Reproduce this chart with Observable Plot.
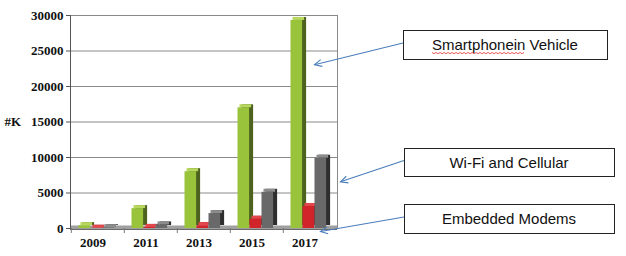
<!DOCTYPE html>
<html><head><meta charset="utf-8">
<script src="https://cdn.jsdelivr.net/npm/d3@7"></script>
<script src="https://cdn.jsdelivr.net/npm/@observablehq/plot@0.6"></script>
<style>body{margin:0;background:#fff} #chart{width:626px;height:256px}</style>
</head><body><div id="chart"></div>
<script>
const years = ["2009", "2011", "2013", "2015", "2017"];
const smartphone = [400, 2800, 8000, 17000, 29300];
const embedded = [30, 150, 400, 1300, 3100];
const wifi = [100, 500, 2100, 5100, 9900];
const yTicks = [0, 5000, 10000, 15000, 20000, 25000, 30000];
const yTickLabels = ["0", "5000", "10000", "15000", "20000", "25000", "30000"];
const yLabel = "#K";
const annotationLabels = ["Smartphonein Vehicle", "Wi-Fi and Cellular", "Embedded Modems"];
const annotationSeries = [0, 2, 1];
const annotationTargetValues = [23000, 6500, -500];

const frontColors = ["#9ac33c", "#d0232a", "#696969"];
const sideColors = ["#4e6220", "#7d1317", "#2e2e2e"];
const topColors = ["#b7d75e", "#e3474b", "#8c8c8c"];

const W = 626, H = 256, mL = 70, mR = 289, mT = 15, mB = 28;
const bw = (W - mL - mR) / years.length;
const barW = 12, pad0 = 7.5, depthX = 4, depthY = 3;
const serif = "'Liberation Serif', 'Times New Roman', serif";

const seriesArrays = [smartphone, embedded, wifi];
const rows = [];
seriesArrays.forEach((arr, s) => arr.forEach((v, i) => rows.push({year: years[i], s, value: v})));
const yTickRows = yTicks.map((v, i) => ({v, label: yTickLabels[i]}));

const marks = [
  Plot.ruleY(yTicks, {stroke: "#8a8a8a", strokeWidth: 1}),
  Plot.frame({anchor: "right", stroke: "#8a8a8a"}),
  Plot.ruleY([0], {stroke: "#a0a0a0", strokeWidth: 4, dy: -1}),
  Plot.ruleY([0], {stroke: "#6a6a6a", strokeWidth: 1, dy: 1})
];
for (let s = 0; s < 3; s++) {
  const d = rows.filter(r => r.s === s);
  const il = pad0 + s * barW, ir = bw - il - barW;
  marks.push(Plot.barY(d, {x: "year", y: "value", fill: sideColors[s], insetLeft: il, insetRight: ir, dx: depthX, dy: -depthY}));
}
for (let s = 0; s < 3; s++) {
  const d = rows.filter(r => r.s === s);
  const il = pad0 + s * barW, ir = bw - il - barW;
  marks.push(Plot.barY(d, {x: "year", y: "value", fill: frontColors[s], insetLeft: il, insetRight: ir}));
  marks.push(Plot.barY(d, {x: "year", y1: "value", y2: "value", fill: topColors[s], insetLeft: il, insetRight: ir, insetTop: -depthY, dx: depthX / 2}));
}
marks.push(
  Plot.frame({anchor: "left", stroke: "#555"}),
  Plot.ruleX(years, {x: d => d, y1: 0, y2: -700, dx: -bw / 2, stroke: "#777"}),
  Plot.axisY({ticks: yTicks, tickFormat: () => "", tickSize: 4, label: null, stroke: "#555"}),
  Plot.text(yTickRows, {y: "v", text: "label", frameAnchor: "left", dx: -7, textAnchor: "end", fontFamily: serif, fontWeight: "bold", fontSize: 13, fill: "#111"}),
  Plot.axisX({tickSize: 0, tickPadding: 9, dx: -5, fontFamily: serif, fontWeight: "bold", fontSize: 13, label: null, fill: "#111"}),
  Plot.text([yLabel], {text: d => d, y: [15000], frameAnchor: "left", dx: -66, textAnchor: "start", fontFamily: serif, fontWeight: "bold", fontSize: 13, fill: "#111"})
);

const plot = Plot.plot({
  width: W, height: H,
  marginLeft: mL, marginRight: mR, marginTop: mT, marginBottom: mB,
  x: {domain: years, padding: 0, axis: null},
  y: {domain: [0, 30000], axis: null},
  style: {background: "#fff", overflow: "visible"},
  marks
});
document.getElementById("chart").appendChild(plot);

// annotations
const xs = plot.scale("x"), ys = plot.scale("y");
const svg = d3.select(plot);
const boxes = [
  {x: 403, y: 30, w: 204, h: 29},
  {x: 404, y: 148, w: 210, h: 28},
  {x: 404, y: 204, w: 210, h: 29}
];
const extra = [8, 10, 2];
annotationLabels.forEach((label, k) => {
  const b = boxes[k];
  const s = annotationSeries[k];
  const bandStart = xs.apply(years[years.length - 1]);
  const tx = bandStart + pad0 + (s + 1) * barW + depthX + extra[k];
  const ty = ys.apply(annotationTargetValues[k]);
  const sx = b.x, sy = b.y + b.h * 0.45;
  const g = svg.append("g");
  g.append("line").attr("x1", sx).attr("y1", sy).attr("x2", tx).attr("y2", ty)
    .attr("stroke", "#4a7ebb").attr("stroke-width", 1.1);
  const ang = Math.atan2(sy - ty, sx - tx), L = 8, A = 0.45;
  g.append("path").attr("d",
    `M${tx + L * Math.cos(ang - A)},${ty + L * Math.sin(ang - A)}L${tx},${ty}L${tx + L * Math.cos(ang + A)},${ty + L * Math.sin(ang + A)}`)
    .attr("fill", "none").attr("stroke", "#4a7ebb").attr("stroke-width", 1.1);
  g.append("rect").attr("x", b.x + 0.5).attr("y", b.y + 0.5).attr("width", b.w).attr("height", b.h)
    .attr("fill", "#fff").attr("stroke", "#222").attr("stroke-width", 1);
  const t = g.append("text").attr("x", b.x + b.w / 2).attr("y", b.y + b.h / 2 + 5.5)
    .attr("text-anchor", "middle").attr("font-family", "'Liberation Sans', Arial, sans-serif")
    .attr("font-size", 15).attr("fill", "#111").text(label);
  if (k === 0) {
    const bb = t.node().getBBox();
    const wordW = t.node().getSubStringLength(0, 12);
    let d = "", x0 = bb.x, yb = b.y + b.h / 2 + 8;
    for (let x = x0, i = 0; x < x0 + wordW; x += 2, i++) d += (i ? "L" : "M") + x + "," + (yb + (i % 2 ? 1.2 : 0));
    g.append("path").attr("d", d).attr("fill", "none").attr("stroke", "#e03030").attr("stroke-width", 0.8);
  }
});
</script>
</body></html>
